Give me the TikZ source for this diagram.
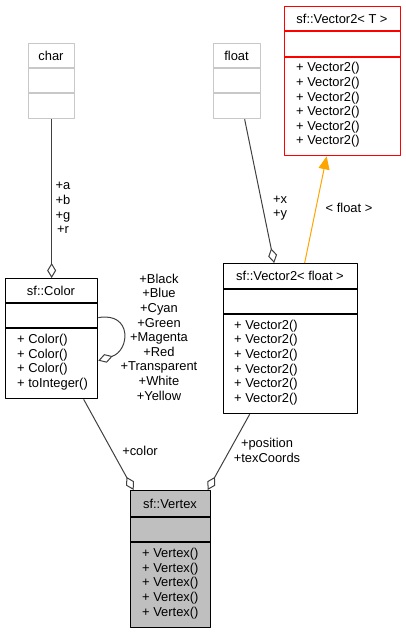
\documentclass[tikz,border=0pt]{standalone}
\usepackage{fontspec}
\setmainfont{Liberation Sans}
\usetikzlibrary{arrows.meta}
\definecolor{linegray}{HTML}{404040}
\definecolor{boxgray}{HTML}{BFBFBF}
\definecolor{edgegray}{HTML}{C8C8C8}
\definecolor{tplred}{HTML}{FF0000}
\definecolor{inhorange}{HTML}{FFA500}
\begin{document}
\begin{tikzpicture}[x=1pt, y=-1pt, font=\fontsize{12.9}{14.6}\selectfont, line join=round,
	box/.style={draw, line width=1.3pt, inner sep=0pt, anchor=north west},
	assoc/.style={draw=linegray, line width=1pt, -{Diamond[fill=white, length=15pt, width=9pt]}},
	inherit/.style={draw=inhorange, line width=1pt, -{Triangle[length=13pt, width=11pt]}},
	memb/.style={align=left, anchor=west, inner sep=0pt},
	lbl/.style={align=center, inner sep=0pt}]
	\useasboundingbox (0,0) rectangle (405,632);
	% class boxes
	\node[box, draw=edgegray, minimum width=46, minimum height=75] (chr) at (28,43) {};
	\node[box, draw=edgegray, minimum width=47, minimum height=75] (flt) at (213,43) {};
	\node[box, draw=tplred, minimum width=116, minimum height=149] (vect) at (284,6) {};
	\node[box, minimum width=92, minimum height=120] (colr) at (5,278) {};
	\node[box, minimum width=134, minimum height=150] (vecf) at (223,263) {};
	\node[box, fill=boxgray, minimum width=80, minimum height=137] (vtx) at (130,490) {};
	\foreach \xa/\xb/\ya/\yb/\c in {28/74/68/93/edgegray, 213/260/68/93/edgegray, 284/400/31/57/tplred,
		5/97/303/328/black, 223/357/289/314/black, 130/210/517/542/black}
		\draw[\c, line width=1.3pt] (\xa,\ya) -- (\xb,\ya) (\xa,\yb) -- (\xb,\yb);
	% names and members
	\node at (51,55.5) {char};
	\node at (236.5,55.5) {float};
	\node at (342,18.5) {sf::Vector2< T >};
	\node at (51,290.5) {sf::Color};
	\node at (290,276) {sf::Vector2< float >};
	\node at (170,503.5) {sf::Vertex};
	\node[memb] at (296,105) {+ Vector2()\\+ Vector2()\\+ Vector2()\\+ Vector2()\\+ Vector2()\\+ Vector2()};
	\node[memb] at (17,362) {+ Color()\\+ Color()\\+ Color()\\+ toInteger()};
	\node[memb] at (234,362.5) {+ Vector2()\\+ Vector2()\\+ Vector2()\\+ Vector2()\\+ Vector2()\\+ Vector2()};
	\node[memb] at (142,583.5) {+ Vertex()\\+ Vertex()\\+ Vertex()\\+ Vertex()\\+ Vertex()};
	% connectors
	\draw[assoc] (chr) -- (colr);
	\draw[assoc] ([xshift=7.5]flt.south) -- ([xshift=-16.5]vecf.north);
	\draw[inherit] ([xshift=14]vecf.north) -- ([xshift=-16]vect.south);
	\draw[assoc] ([yshift=21]colr.east) .. controls +(34,-6) and +(32,-10) .. ([yshift=-22]colr.east);
	\draw[assoc] ([xshift=32]colr.south) -- ([xshift=-37]vtx.north);
	\draw[assoc] ([xshift=-41]vecf.south) -- ([xshift=37]vtx.north);
	% labels
	\node[lbl] (lchr) at (63,208) {+a\\+b\\+g\\+r};
	\node[lbl] (lflt) at (280,208) {+x\\+y};
	\node[lbl] (linh) at (349,208) {< float >};
	\node[lbl] (lself) at (159,337) {+Black\\+Blue\\+Cyan\\+Green\\+Magenta\\+Red\\+Transparent\\+White\\+Yellow};
	\node[lbl] (lcol) at (140,450.5) {+color};
	\node[lbl] (lpos) at (267,450.5) {+position\\+texCoords};
\end{tikzpicture}
\end{document}
